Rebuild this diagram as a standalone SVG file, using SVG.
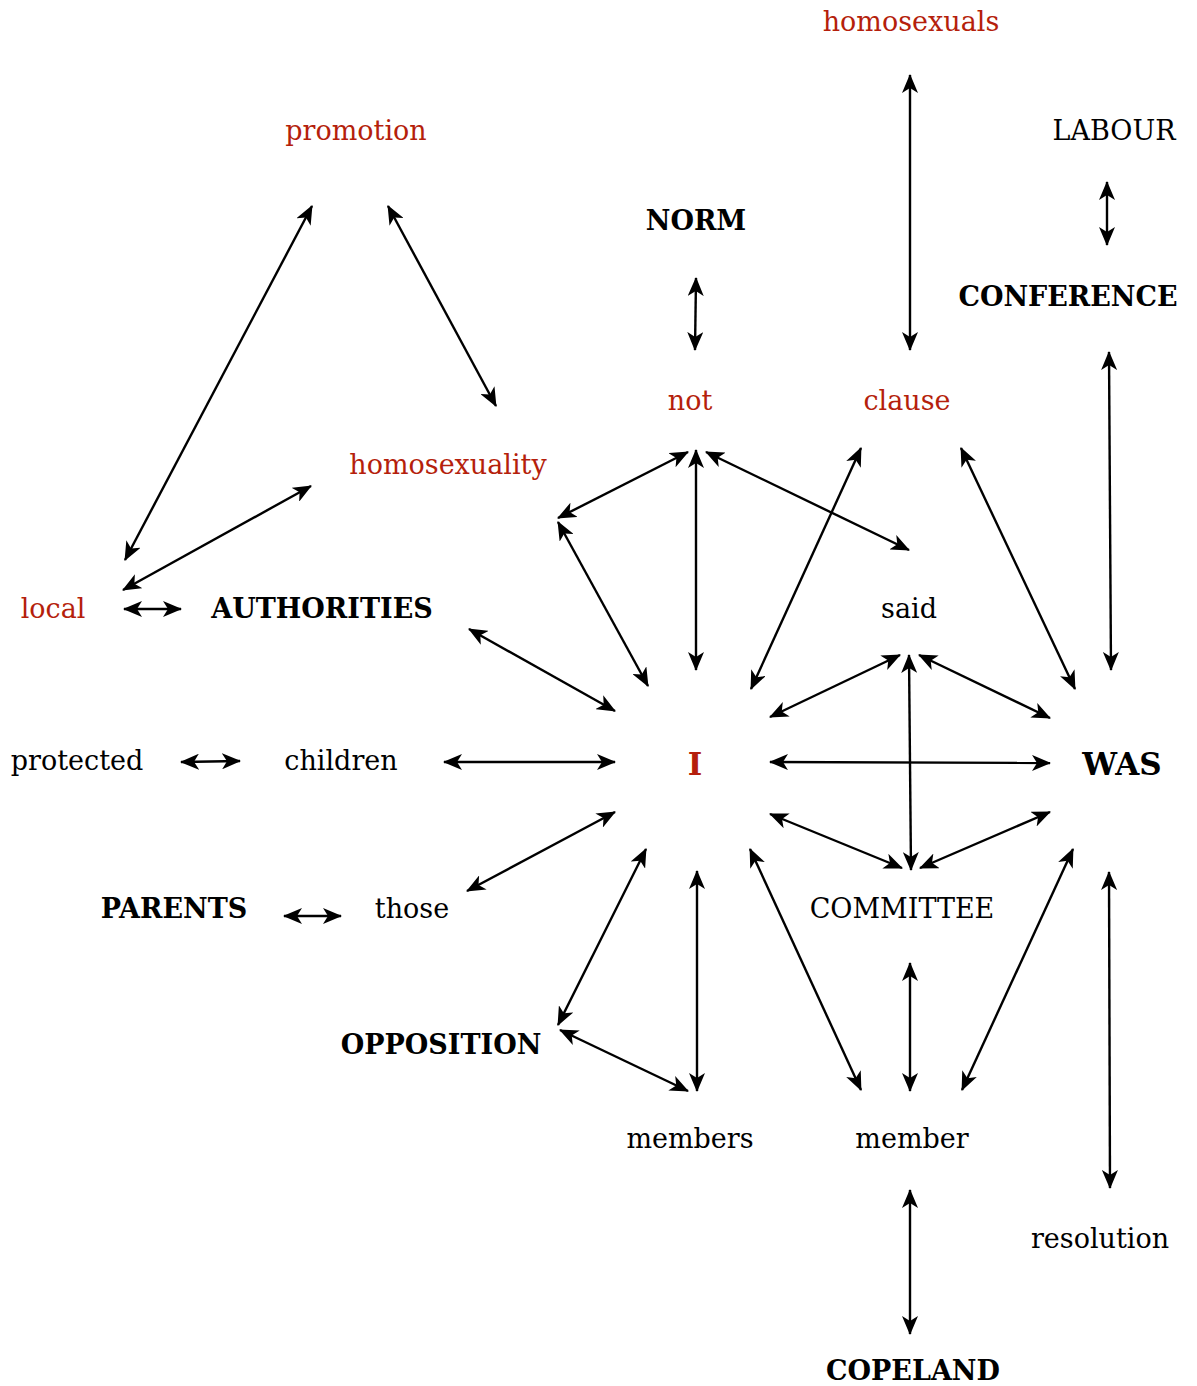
<svg xmlns="http://www.w3.org/2000/svg" width="1197" height="1386" viewBox="0 0 1197 1386">
  <style>
    text { font-family: "DejaVu Serif", "Liberation Serif", serif; font-size: 27px; text-anchor: middle; fill: #000; }
    .red { fill: #b51f0c; }
    .b { font-weight: bold; }
    .big { font-size: 31px; }
    .edges line { stroke: #000; stroke-width: 2.4; fill: none; marker-start: url(#ah); marker-end: url(#ah); }
  </style>
  <defs>
    <!-- notched arrowhead used at both ends of every link -->
    <marker id="ah" markerUnits="userSpaceOnUse" viewBox="0 0 19 16" refX="18" refY="8" markerWidth="19" markerHeight="16" orient="auto-start-reverse">
      <path d="M0,0 L19,8 L0,16 L5,8 z" fill="#000"/>
    </marker>
  </defs>

  <g class="edges" id="connectors">
    <line x1="910" y1="75" x2="910" y2="350"/>
    <line x1="1107" y1="182" x2="1107" y2="245"/>
    <line x1="696" y1="278" x2="695" y2="350"/>
    <line x1="312" y1="206" x2="125" y2="560"/>
    <line x1="388" y1="206" x2="496" y2="406"/>
    <line x1="311" y1="486" x2="123" y2="590"/>
    <line x1="124" y1="609" x2="181" y2="609"/>
    <line x1="1109" y1="352" x2="1111" y2="670"/>
    <line x1="688" y1="452" x2="558" y2="518"/>
    <line x1="558" y1="522" x2="648" y2="686"/>
    <line x1="696" y1="450" x2="696" y2="670"/>
    <line x1="706" y1="452" x2="909" y2="550"/>
    <line x1="861" y1="448" x2="751" y2="689"/>
    <line x1="961" y1="448" x2="1075" y2="689"/>
    <line x1="469" y1="629" x2="615" y2="711"/>
    <line x1="900" y1="655" x2="770" y2="717"/>
    <line x1="919" y1="655" x2="1050" y2="718"/>
    <line x1="909" y1="655" x2="911" y2="870"/>
    <line x1="444" y1="762" x2="615" y2="762"/>
    <line x1="770" y1="762" x2="1050" y2="763"/>
    <line x1="181" y1="762" x2="240" y2="761"/>
    <line x1="615" y1="812" x2="467" y2="891"/>
    <line x1="284" y1="916" x2="341" y2="916"/>
    <line x1="770" y1="814" x2="902" y2="868"/>
    <line x1="1050" y1="812" x2="920" y2="868"/>
    <line x1="646" y1="849" x2="558" y2="1025"/>
    <line x1="697" y1="871" x2="697" y2="1091"/>
    <line x1="560" y1="1030" x2="688" y2="1091"/>
    <line x1="750" y1="849" x2="861" y2="1090"/>
    <line x1="910" y1="963" x2="910" y2="1091"/>
    <line x1="1073" y1="849" x2="962" y2="1090"/>
    <line x1="1109" y1="872" x2="1110" y2="1188"/>
    <line x1="910" y1="1190" x2="910" y2="1334"/>
  </g>

  <g id="n-homosexuals"><text class="red" x="911" y="31">homosexuals</text></g>
  <g id="n-promotion"><text class="red" x="356" y="140">promotion</text></g>
  <g id="n-labour"><text x="1114" y="140">LABOUR</text></g>
  <g id="n-norm"><text class="b" x="696" y="230">NORM</text></g>
  <g id="n-conference"><text class="b" x="1068" y="306">CONFERENCE</text></g>
  <g id="n-not"><text class="red" x="690" y="410">not</text></g>
  <g id="n-clause"><text class="red" x="907" y="410">clause</text></g>
  <g id="n-homosexuality"><text class="red" x="448" y="474">homosexuality</text></g>
  <g id="n-local"><text class="red" x="53" y="618">local</text></g>
  <g id="n-authorities"><text class="b" x="322" y="618">AUTHORITIES</text></g>
  <g id="n-said"><text x="909" y="618">said</text></g>
  <g id="n-protected"><text x="77" y="770">protected</text></g>
  <g id="n-children"><text x="341" y="770">children</text></g>
  <g id="n-i"><text class="red b big" x="695" y="775">I</text></g>
  <g id="n-was"><text class="b big" x="1122" y="775">WAS</text></g>
  <g id="n-parents"><text class="b" x="174" y="918">PARENTS</text></g>
  <g id="n-those"><text x="412" y="918">those</text></g>
  <g id="n-committee"><text x="902" y="918">COMMITTEE</text></g>
  <g id="n-opposition"><text class="b" x="441" y="1054">OPPOSITION</text></g>
  <g id="n-members"><text x="690" y="1148">members</text></g>
  <g id="n-member"><text x="912" y="1148">member</text></g>
  <g id="n-resolution"><text x="1100" y="1248">resolution</text></g>
  <g id="n-copeland"><text class="b" x="913" y="1380">COPELAND</text></g>
</svg>
